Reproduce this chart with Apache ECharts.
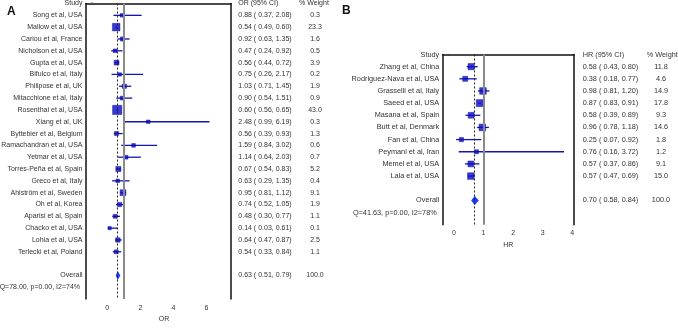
<!DOCTYPE html>
<html>
<head>
<meta charset="utf-8">
<script src="https://cdn.jsdelivr.net/npm/echarts@6/dist/echarts.min.js"></script>
<style>
  html, body { margin: 0; padding: 0; background: #fff; }
  #chart { width: 678px; height: 328px; }
</style>
</head>
<body>
<div id="chart"></div>
<script>
// ---- panel A : odds ratio ----
const studiesA = ['Song et al, USA', 'Mallow et al, USA', 'Cariou et al, France', 'Nicholson et al, USA',
  'Gupta et al, USA', 'Bifulco et al, Italy', 'Philipose et al, UK', 'Mitacchione et al, Italy',
  'Rosenthal et al, USA', 'Xiang et al, UK', 'Byttebier et al, Belgium', 'Ramachandran et al, USA',
  'Yetmar et al, USA', 'Torres-Peña et al, Spain', 'Greco et al, Italy', 'Ahlström et al, Sweden',
  'Oh et al, Korea', 'Aparisi et al, Spain', 'Chacko et al, USA', 'Lohia et al, USA', 'Terlecki et al, Poland'];
const estA = [0.88, 0.54, 0.92, 0.47, 0.56, 0.75, 1.03, 0.90, 0.60, 2.48, 0.56, 1.59, 1.14, 0.67, 0.63, 0.95, 0.74, 0.48, 0.14, 0.64, 0.54];
const loA = [0.37, 0.49, 0.63, 0.24, 0.44, 0.26, 0.71, 0.54, 0.56, 0.99, 0.39, 0.84, 0.64, 0.54, 0.29, 0.81, 0.52, 0.30, 0.03, 0.47, 0.33];
const hiA = [2.08, 0.60, 1.35, 0.92, 0.72, 2.17, 1.45, 1.51, 0.65, 6.19, 0.93, 3.02, 2.03, 0.83, 1.35, 1.12, 1.05, 0.77, 0.61, 0.87, 0.84];
const weightA = [0.3, 23.3, 1.6, 0.5, 3.9, 0.2, 1.9, 0.9, 43.0, 0.3, 1.3, 0.6, 0.7, 5.2, 0.4, 9.1, 1.9, 1.1, 0.1, 2.5, 1.1];
const overallA = [0.63, 0.51, 0.79, 100.0];
const hetA = 'Q=78.00, p=0.00, I2=74%';
const ticksA = [0, 2, 4, 6];

// ---- panel B : hazard ratio ----
const studiesB = ['Zhang et al, China', 'Rodriguez-Nava et al, USA', 'Grasselli et al, Italy', 'Saeed et al, USA',
  'Masana et al, Spain', 'Butt et al, Denmark', 'Fan et al, China', 'Peymani et al, Iran', 'Memel et al, USA', 'Lala et al, USA'];
const estB = [0.58, 0.38, 0.98, 0.87, 0.58, 0.96, 0.25, 0.76, 0.57, 0.57];
const loB = [0.43, 0.18, 0.81, 0.83, 0.39, 0.78, 0.07, 0.16, 0.37, 0.47];
const hiB = [0.80, 0.77, 1.20, 0.91, 0.89, 1.18, 0.92, 3.72, 0.86, 0.69];
const weightB = [11.8, 4.6, 14.9, 17.8, 9.3, 14.6, 1.8, 1.2, 9.1, 15.0];
const overallB = [0.70, 0.58, 0.84, 100.0];
const hetB = 'Q=41.63, p=0.00, I2=78%';
const ticksB = [0, 1, 2, 3, 4];

const FONT = 'Arial, "Liberation Sans", sans-serif';
const TXT = '#333';

function fmtCI(e, l, h) {
  return e.toFixed(2) + ' ( ' + l.toFixed(2) + ', ' + h.toFixed(2) + ')';
}

// rows of the text table for one panel
function tableRows(p) {
  const rows = [{ row: 0, name: 'Study', ci: p.ciHead, w: '% Weight', head: true }];
  p.names.forEach((n, i) => {
    rows.push({ row: i + 1, name: n, ci: fmtCI(p.est[i], p.lo[i], p.hi[i]), w: p.w[i].toFixed(1) });
  });
  const n = p.names.length;
  rows.push({ row: n + 2, name: 'Overall', ci: fmtCI(p.ov[0], p.ov[1], p.ov[2]), w: p.ov[3].toFixed(1) });
  rows.push({ row: n + 3, name: p.het, ci: '', w: '', het: true });
  return rows;
}

function txt(x, y, s, align, size) {
  return {
    type: 'text', x: x, y: y,
    style: { text: s, fill: TXT, font: size + 'px ' + FONT, align: align, textAlign: align,
      verticalAlign: 'middle', textVerticalAlign: 'middle' }
  };
}

function panelSeries(g, p) {
  const yi = 2 * g;
  const rows = tableRows(p);
  const n = p.names.length;
  return [
    { // confidence intervals
      type: 'custom', xAxisIndex: g, yAxisIndex: yi, z: 2,
      data: p.est.map((e, i) => [p.lo[i], p.hi[i], i + 1]),
      renderItem(params, api) {
        const a = api.coord([api.value(0), api.value(2)]);
        const b = api.coord([api.value(1), api.value(2)]);
        return { type: 'line', shape: { x1: a[0], y1: a[1], x2: b[0], y2: b[1] },
          style: { stroke: '#1414b4', lineWidth: 1.3 } };
      }
    },
    { // study estimates, box size by weight
      type: 'scatter', xAxisIndex: g, yAxisIndex: yi, z: 3,
      symbol: 'rect',
      symbolSize: v => 3 + Math.sqrt(v[2]) * 0.95,
      itemStyle: { color: '#0808cc', borderColor: '#000088', borderWidth: 0.5 },
      data: p.est.map((e, i) => [e, i + 1, p.w[i]]),
      markLine: {
        silent: true, symbol: ['none', 'none'], label: { show: false },
        data: [
          { xAxis: 1, lineStyle: { color: '#8a8a8a', width: 2, type: 'solid' } },
          { xAxis: p.ov[0], lineStyle: { color: '#222', width: 1, type: [2, 2] } }
        ]
      }
    },
    { // overall diamond
      type: 'custom', xAxisIndex: g, yAxisIndex: yi, z: 4,
      data: [[p.ov[1], p.ov[0], p.ov[2], n + 2]],
      renderItem(params, api) {
        const l = api.coord([api.value(0), api.value(3)]);
        const c = api.coord([api.value(1), api.value(3)]);
        const r = api.coord([api.value(2), api.value(3)]);
        const h = 4.5;
        return { type: 'polygon',
          shape: { points: [[l[0], l[1]], [c[0], c[1] - h], [r[0], r[1]], [c[0], c[1] + h]] },
          style: { fill: '#1a3cff' } };
      }
    },
    { // table text
      type: 'custom', xAxisIndex: g, yAxisIndex: yi, z: 5, silent: true,
      data: rows.map(r => [0, r.row]),
      renderItem(params, api) {
        const r = rows[params.dataIndex];
        const cs = params.coordSys;
        const y = api.coord([0, api.value(1)])[1];
        const right = cs.x + cs.width;
        const kids = [];
        if (r.het) {
          kids.push(txt(cs.x - 6, y, r.name, 'right', p.fs));
        } else {
          kids.push(txt(cs.x - 3.5, y, r.name, 'right', p.fs));
          kids.push(txt(right + p.ciOff, y, r.ci, 'left', p.fs));
          if (r.head) {
            kids.push(txt(p.wHeadX, y, r.w, 'left', p.fs));
            kids.push(txt(cs.x + 6, y, '·', 'center', p.fs)); // little header dot
          } else {
            kids.push(txt(p.wX, y, r.w, 'center', p.fs));
          }
        }
        return { type: 'group', children: kids };
      }
    }
  ];
}

const pA = { names: studiesA, est: estA, lo: loA, hi: hiA, w: weightA, ov: overallA, het: hetA,
  ciHead: 'OR (95% CI)', fs: 7, ciOff: 7.3, wX: 315, wHeadX: 299 };
const pB = { names: studiesB, est: estB, lo: loB, hi: hiB, w: weightB, ov: overallB, het: hetB,
  ciHead: 'HR (95% CI)', fs: 7.3, ciOff: 8.7, wX: 661, wHeadX: 646.7 };

function xAxisOf(g, min, max, ticks, name, pad) {
  return {
    type: 'value', gridIndex: g, min: min, max: max,
    name: name, nameLocation: 'middle', nameGap: 12,
    nameTextStyle: { color: TXT, fontSize: 7, fontFamily: FONT, padding: pad },
    axisLine: { show: true, lineStyle: { color: '#111', width: 1.5 } },
    axisTick: { show: false },
    splitLine: { show: false },
    axisLabel: { customValues: ticks, color: TXT, fontSize: 7, fontFamily: FONT, margin: 5 }
  };
}

function yAxisOf(g, max, pos) {
  return {
    type: 'value', gridIndex: g, min: 0, max: max, inverse: true, position: pos,
    axisLine: { show: true, onZero: false, lineStyle: { color: '#111', width: 1.5 } },
    axisTick: { show: false }, axisLabel: { show: false }, splitLine: { show: false }
  };
}

const option = {
  animation: false,
  backgroundColor: '#fff',
  grid: [
    { left: 86, right: 447, top: 3.5, bottom: 20.7 },
    { left: 442.7, right: 104, top: 54.5, bottom: 103.3 }
  ],
  xAxis: [
    xAxisOf(0, -1.29, 7.49, ticksA, 'OR', [0, 0, 0, 11]),
    xAxisOf(1, -0.382, 4.058, ticksB, 'HR', [0, 0, 0, 0])
  ],
  yAxis: [
    yAxisOf(0, studiesA.length + 4, 'left'),
    yAxisOf(0, studiesA.length + 4, 'right'),
    yAxisOf(1, studiesB.length + 4, 'left'),
    yAxisOf(1, studiesB.length + 4, 'right')
  ],
  graphic: [
    { type: 'text', left: 7, top: 6, style: { text: 'A', font: 'bold 12px ' + FONT, fill: '#111' } },
    { type: 'text', left: 342, top: 5, style: { text: 'B', font: 'bold 12px ' + FONT, fill: '#111' } }
  ],
  series: [].concat(panelSeries(0, pA), panelSeries(1, pB))
};

const chart = echarts.init(document.getElementById('chart'));
chart.setOption(option);
window.addEventListener('resize', () => { chart.resize(); });
</script>
</body>
</html>
